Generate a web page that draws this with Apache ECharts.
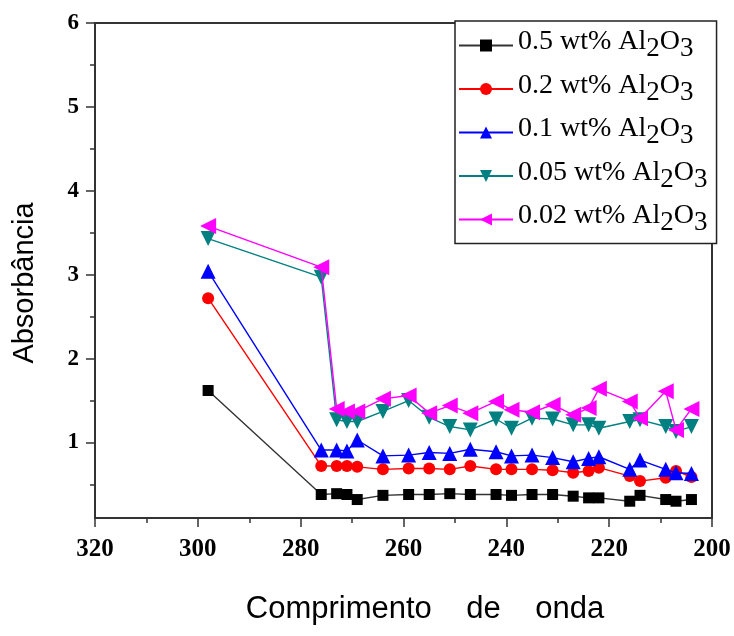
<!DOCTYPE html>
<html><head><meta charset="utf-8">
<script src="https://cdn.jsdelivr.net/npm/echarts@6/dist/echarts.min.js"></script>
<style>html,body{margin:0;padding:0;background:#fff}#c{width:734px;height:636px}</style>
</head><body><div id="c"></div>
<script>
// Wavelengths (nm)
const wavelengths = [298,276,273,271,269,264,259,255,251,247,242,239,235,231,227,224,222,216,214,209,207,204];
// Absorbance per concentration
const abs05  = [1.62,0.38,0.39,0.38,0.32,0.37,0.38,0.38,0.39,0.38,0.38,0.37,0.38,0.38,0.36,0.34,0.34,0.30,0.37,0.32,0.30,0.32];
const abs02  = [2.72,0.72,0.72,0.72,0.71,0.68,0.69,0.69,0.68,0.72,0.68,0.68,0.68,0.67,0.64,0.66,0.70,0.60,0.54,0.58,0.66,0.59];
const abs01  = [3.04,0.91,0.91,0.90,1.03,0.84,0.85,0.88,0.87,0.92,0.89,0.84,0.85,0.82,0.77,0.81,0.83,0.68,0.79,0.68,0.64,0.63];
const abs005 = [3.43,2.97,1.27,1.25,1.25,1.37,1.50,1.30,1.19,1.15,1.28,1.17,1.29,1.28,1.21,1.21,1.17,1.25,1.27,1.19,1.13,1.19];
const abs002 = [3.58,3.09,1.40,1.37,1.37,1.52,1.56,1.35,1.44,1.35,1.49,1.39,1.36,1.45,1.33,1.41,1.64,1.49,1.29,1.61,1.15,1.40];
const seriesNames = ['0.5 wt% Al2O3','0.2 wt% Al2O3','0.1 wt% Al2O3','0.05 wt% Al2O3','0.02 wt% Al2O3'];
const yTickValues = [1,2,3,4,5,6];
const yMinorTickValues = [0.5,1.5,2.5,3.5,4.5,5.5];
const xAxisTitle = 'Comprimento    de    onda';
const yAxisTitle = 'Absorbância';

const allValues = [abs05, abs02, abs01, abs005, abs002];
const colors = ['#000000','#ff0000','#0000ff','#008080','#ff00ff'];
const symbols = ['rect','circle','triangle','triangle','triangle'];
const rotates = [0,0,0,180,90];
const sizes = [11,12,15,15,16];

const serif = '"Liberation Serif","Times New Roman",serif';
const sans = '"Liberation Sans",Arial,sans-serif';

const chart = echarts.init(document.getElementById('c'));
const series = seriesNames.map((name, i) => ({
  name: name,
  type: 'line',
  data: wavelengths.map((w, j) => [w, allValues[i][j]]),
  symbol: symbols[i],
  symbolRotate: rotates[i],
  symbolSize: sizes[i],
  showAllSymbol: true,
  color: colors[i],
  lineStyle: { color: i === 0 ? '#333' : colors[i], width: 1.4 },
  itemStyle: { color: colors[i] },
  animation: false,
  z: 2 + i
}));

chart.setOption({
  animation: false,
  backgroundColor: '#fff',
  grid: { left: 95, top: 23, right: 22, bottom: 118, show: true, borderColor: '#333', borderWidth: 2, backgroundColor: 'transparent' },
  xAxis: {
    type: 'value', min: 200, max: 320, interval: 20, inverse: true,
    axisLine: { show: true, lineStyle: { color: '#333', width: 2 } },
    axisTick: { show: true, inside: false, length: 9, lineStyle: { color: '#333', width: 1.5 } },
    minorTick: { show: true, splitNumber: 2, length: 5, lineStyle: { color: '#333', width: 1.5 } },
    splitLine: { show: false },
    axisLabel: { margin: 19, fontFamily: serif, fontWeight: 'bold', fontSize: 25, color: '#000' }
  },
  yAxis: [{
    type: 'value', min: 0.1, max: 6,
    axisLine: { show: true, lineStyle: { color: '#333', width: 2 } },
    axisTick: { show: true, length: 9, customValues: yTickValues, lineStyle: { color: '#333', width: 1.5 } },
    splitLine: { show: false },
    axisLabel: { margin: 16, customValues: yTickValues, fontFamily: serif, fontWeight: 'bold', fontSize: 23, color: '#000' }
  }, {
    type: 'value', min: 0.1, max: 6, position: 'left', offset: 0,
    axisLine: { show: false },
    axisTick: { show: true, length: 5, customValues: yMinorTickValues, lineStyle: { color: '#333', width: 1.5 } },
    splitLine: { show: false },
    axisLabel: { show: false }
  }],
  legend: {
    orient: 'vertical',
    left: 455, top: 21,
    padding: [7, 9, 7, 3],
    itemWidth: 54, itemHeight: 15, itemGap: 9,
    backgroundColor: '#fff',
    borderColor: '#222', borderWidth: 1.5, borderRadius: 0,
    data: seriesNames,
    formatter: function (name) {
      const m = name.match(/^(.*Al)2O3$/);
      return '{t|' + m[1] + '}{s|2}{t|O}{s|3}';
    },
    textStyle: {
      fontFamily: serif, fontSize: 28, color: '#000',
      rich: {
        t: { fontFamily: serif, fontSize: 28, color: '#000', padding: [0, 0, 7, 0] },
        s: { fontFamily: serif, fontSize: 27, color: '#000', padding: [7, 0, 0, 0] }
      }
    }
  },
  graphic: [
    { type: 'text', x: 425, y: 609, style: { text: xAxisTitle, font: '31px ' + sans, fill: '#000', textAlign: 'center', textVerticalAlign: 'middle' } },
    { type: 'text', x: 25, y: 283, rotation: Math.PI / 2, style: { text: yAxisTitle, font: '29px ' + sans, fill: '#000', textAlign: 'center', textVerticalAlign: 'middle' } }
  ],
  series: series
});
</script>
</body></html>
